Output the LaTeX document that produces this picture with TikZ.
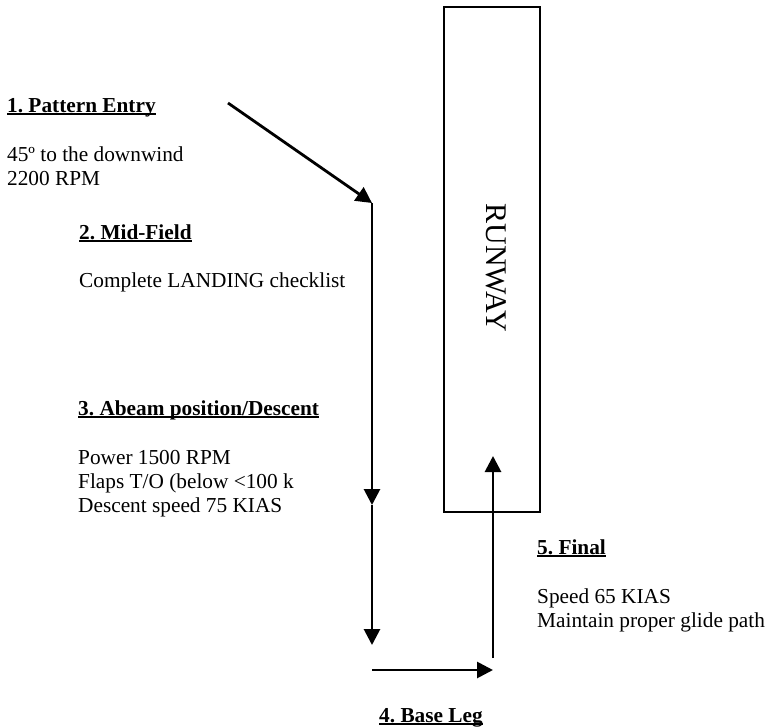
\documentclass[tikz,border=0pt]{standalone}
\usepackage{fontspec}
\setmainfont{Liberation Serif}
\usetikzlibrary{arrows.meta}
\frenchspacing
\newcommand\ulx[1]{\setbox0\hbox{#1}\rlap{\raisebox{-2.6pt}{\rule{\wd0}{1.8pt}}}\box0}
\tikzset{
  txt/.style={anchor=base west, inner sep=0pt, font=\fontsize{21.3}{24}\selectfont},
  hdr/.style={txt, font=\fontsize{21.3}{24}\selectfont\bfseries},
  flow/.style={line width=2.8pt, -{Triangle[length=16pt,width=16pt]}},
  runwaybox/.style={draw, line width=1.5pt}
}
\begin{document}
\begin{tikzpicture}[x=1pt,y=-1pt]
\useasboundingbox (0,0) rectangle (774,726);
% runway
\draw[runwaybox] (444,7) rectangle (540,512);
\node[rotate=-90, inner sep=0pt, font=\fontsize{30}{32}\selectfont] (rw) at (496,268) {RUNWAY};
% text
\node[hdr] (h1) at (7,112) {\ulx{1. Pattern Entry}};
\node[txt] (t1a) at (7,161) {45º to the downwind};
\node[txt] (t1b) at (7,185) {2200 RPM};
\node[hdr] (h2) at (79,239) {\ulx{2. Mid-Field}};
\node[txt] (t2a) at (79,287) {Complete LANDING checklist};
\node[hdr] (h3) at (78,415) {\ulx{3. Abeam position/Descent}};
\node[txt] (t3a) at (78,464) {Power 1500 RPM};
\node[txt] (t3b) at (78,488) {Flaps T/O (below <100 k};
\node[txt] (t3c) at (78,512) {Descent speed 75 KIAS};
\node[hdr] (h4) at (379,722) {\ulx{4. Base Leg}};
\node[hdr] (h5) at (537,554) {\ulx{5. Final}};
\node[txt] (t5a) at (537,603) {Speed 65 KIAS};
\node[txt] (t5b) at (537,627) {Maintain proper glide path};
% path coordinates
\coordinate (entry) at (228,103);
\coordinate (turn) at (372,203);
\coordinate (mid) at (372,505);
\coordinate (downend) at (372,645);
\coordinate (basestart) at (372,670);
\coordinate (baseend) at (493,670);
\coordinate (finalstart) at (493,658);
\coordinate (finalend) at (493,456);
% connectors
\draw[flow] (entry) -- (turn);
\draw[flow] (turn) -- (mid);
\draw[flow] (mid) -- (downend);
\draw[flow] (basestart) -- (baseend);
\draw[flow] (finalstart) -- (finalend);
\end{tikzpicture}
\end{document}
